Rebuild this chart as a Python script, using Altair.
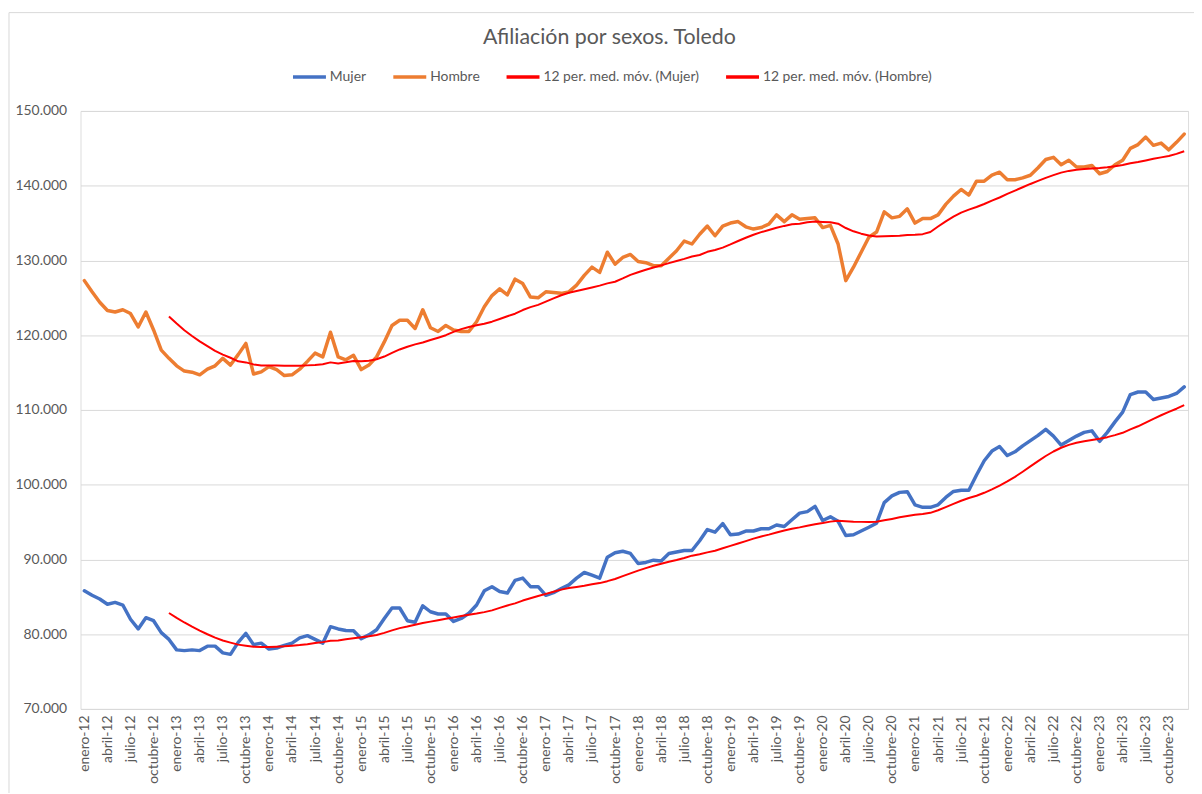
import altair as alt
import pandas as pd

nombres_mes = ["enero", "febrero", "marzo", "abril", "mayo", "junio", "julio",
               "agosto", "septiembre", "octubre", "noviembre", "diciembre"]
anios = list(range(12, 24))
meses = [f"{m}-{a}" for a in anios for m in nombres_mes]

mujer = [
    85800, 85200, 84700, 84000, 84250, 83900, 82000, 80700, 82200, 81800, 80200, 79300,
    77900, 77800, 77900, 77800, 78400, 78400, 77500, 77300, 78900, 80100, 78600, 78800,
    78000, 78150, 78500, 78800, 79500, 79800, 79300, 78800, 81000, 80700, 80500, 80450,
    79400, 79900, 80600, 82100, 83500, 83500, 81800, 81600, 83800, 83000, 82700, 82700,
    81700, 82100, 82800, 83900, 85800, 86350, 85700, 85500, 87200, 87500, 86350, 86350,
    85200, 85550, 86100, 86600, 87500, 88250, 87900, 87500, 90300, 90900, 91100, 90800,
    89450, 89600, 89900, 89800, 90800, 91000, 91200, 91200, 92500, 94000, 93650, 94800,
    93300, 93400, 93800, 93800, 94100, 94100, 94600, 94400, 95300, 96200, 96400, 97100,
    95200, 95700, 95100, 93200, 93300, 93800, 94300, 94850, 97600, 98500, 98970, 99060,
    97300, 96970, 96970, 97300, 98300, 99100, 99260, 99260, 101300, 103200, 104500, 105100,
    103900, 104400, 105200, 105900, 106600, 107400, 106500, 105300, 105900, 106500, 107000, 107200,
    105800, 107000, 108400, 109700, 112060, 112400, 112400, 111400, 111600, 111800, 112200, 113080,
]

hombre = [
    127300, 125800, 124400, 123300, 123100, 123400, 122900, 121100, 123100, 120700, 118000, 116900,
    115900, 115200, 115050, 114700, 115450, 115900, 116900, 116000, 117400, 118900, 114800, 115100,
    115800, 115400, 114600, 114700, 115450, 116500, 117600, 117100, 120400, 117100, 116700, 117300,
    115400, 116000, 117100, 119100, 121300, 122000, 122000, 120900, 123400, 121000, 120500, 121300,
    120700, 120500, 120500, 121800, 123800, 125300, 126200, 125400, 127500, 126900, 125100, 125000,
    125800, 125700, 125600, 125800, 126700, 128000, 129100, 128400, 131100, 129500, 130400, 130800,
    129850, 129700, 129300, 129300, 130300, 131300, 132600, 132200, 133500, 134600, 133300, 134600,
    135000, 135200, 134500, 134200, 134400, 134850, 136100, 135200, 136100, 135500, 135600, 135700,
    134400, 134700, 132200, 127300, 129100, 131100, 133100, 133800, 136500, 135700, 135900, 136900,
    135000, 135600, 135600, 136100, 137500, 138600, 139500, 138750, 140600, 140600, 141400, 141800,
    140800, 140800, 141050, 141400, 142400, 143500, 143800, 142800, 143400, 142500, 142500, 142700,
    141600, 141900, 142800, 143400, 145000, 145500, 146500, 145400, 145700, 144800, 145800, 146900,
]

series = ["Mujer", "Hombre", "12 per. med. móv. (Mujer)", "12 per. med. móv. (Hombre)"]
colores = ["#4472C4", "#ED7D31", "#FF0000", "#FF0000"]

df = pd.DataFrame({
    "idx": list(range(len(meses))) * 2,
    "mes": meses * 2,
    "serie": ["Mujer"] * len(meses) + ["Hombre"] * len(meses),
    "valor": mujer + hombre,
})

FONT = "Lato"
GRAY = "#595959"
FS = 14

color = alt.Color(
    "serie:N",
    scale=alt.Scale(domain=series, range=colores),
    legend=alt.Legend(
        orient="none", legendX=212, legendY=-53, direction="horizontal",
        title=None, symbolType="stroke", symbolSize=1100, symbolStrokeWidth=3.5,
        labelFont=FONT, labelFontSize=FS, labelColor=GRAY, labelOffset=2,
        labelLimit=400, columnPadding=19, columns=4,
    ),
)

x = alt.X(
    "mes:O", sort=meses,
    scale=alt.Scale(type="point", padding=0.5),
    axis=alt.Axis(
        values=meses[::3], labelAngle=-90, grid=False, ticks=False, domain=False,
        labelPadding=6, labelFont=FONT, labelFontSize=FS, labelColor=GRAY,
        labelOverlap=False, title=None,
    ),
)

y = alt.Y(
    "valor:Q",
    scale=alt.Scale(domain=[70000, 150000], nice=False, zero=False),
    axis=alt.Axis(
        values=list(range(70000, 150001, 10000)),
        labelExpr="replace(format(datum.value, ',.0f'), ',', '.')",
        grid=True, gridColor="#d9d9d9", gridWidth=1, domain=False, ticks=False,
        labelPadding=14, labelFont=FONT, labelFontSize=FS, labelColor=GRAY, title=None,
    ),
)

base = alt.Chart(df)

lineas = base.mark_line(strokeWidth=3.5, strokeJoin="round", strokeCap="round").encode(
    x=x, y=y, color=color, detail="serie:N"
)

medias = base.transform_window(
    media="mean(valor)", n="count()", frame=[-11, 0],
    groupby=["serie"], sort=[alt.SortField("idx")],
).transform_filter(
    "datum.n >= 12"
).transform_calculate(
    serie="'12 per. med. móv. (' + datum.serie + ')'"
).mark_line(strokeWidth=2, strokeJoin="round").encode(
    x=x, y=alt.Y("media:Q", scale=alt.Scale(domain=[70000, 150000], nice=False, zero=False)),
    color=alt.Color("serie:N", scale=alt.Scale(domain=series, range=colores)),
    detail="serie:N",
)

marco = alt.Chart(alt.Data(values=[{}])).mark_rect(
    fill=None, stroke="#d9d9d9", strokeWidth=1
).encode(
    x=alt.value(-72), x2=alt.value(1125), y=alt.value(-99), y2=alt.value(700)
)

chart = alt.layer(marco, lineas, medias).properties(
    width=1115, height=602,
    title=alt.TitleParams(
        "Afiliación por sexos. Toledo", font=FONT, fontSize=21.5, fontWeight="normal",
        color=GRAY, anchor="middle", offset=-37, dx=-25,
    ),
    autosize=alt.AutoSizeParams(type="none"),
    padding={"left": 73, "top": 101, "right": 6, "bottom": 82},
).configure_view(stroke=None).configure(background="white")

chart.save("out.html", embed_options={"renderer": "svg", "actions": False})
